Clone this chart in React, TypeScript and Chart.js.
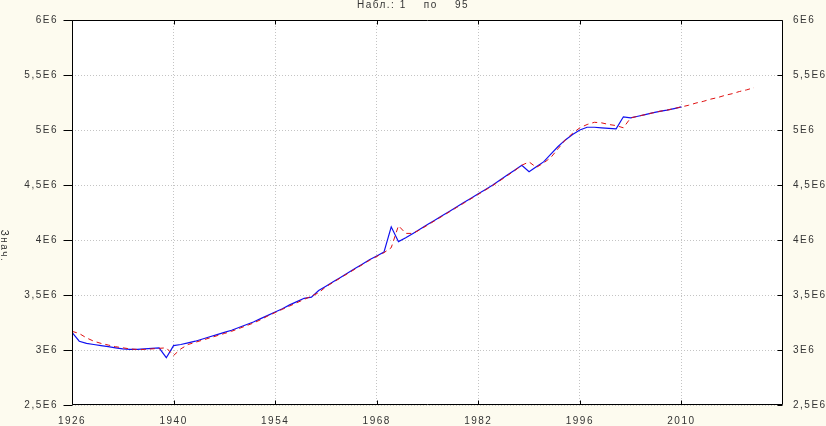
import React, { useEffect, useRef } from "react";
import { Chart, registerables } from "chart.js";

Chart.register(...registerables);

const START_YEAR = 1926;
const X_TICKS = [1926, 1940, 1954, 1968, 1982, 1996, 2010];
const Y_TICKS = [2.5e6, 3e6, 3.5e6, 4e6, 4.5e6, 5e6, 5.5e6, 6e6];
const TITLE = "Набл.: 1    по    95";
const Y_TITLE = "Знач.";

// observed values, millions (1926..2010)
const observed = [
  3.16, 3.08, 3.06, 3.05, 3.04, 3.03, 3.02, 3.01, 3.005, 3.005,
  3.01, 3.015, 3.02, 2.93, 3.04, 3.05, 3.065, 3.08, 3.1, 3.12,
  3.14, 3.16, 3.18, 3.205, 3.23, 3.255, 3.285, 3.315, 3.345, 3.375,
  3.41, 3.44, 3.47, 3.48, 3.54, 3.58, 3.62, 3.66, 3.7, 3.74,
  3.78, 3.82, 3.855, 3.89, 4.12, 3.985, 4.02, 4.06, 4.1, 4.14,
  4.18, 4.22, 4.26, 4.3, 4.34, 4.38, 4.42, 4.46, 4.5, 4.545,
  4.59, 4.635, 4.68, 4.62, 4.665, 4.71, 4.78, 4.85, 4.91, 4.96,
  5.0, 5.025, 5.025, 5.02, 5.015, 5.01, 5.12, 5.11, 5.125, 5.14,
  5.155, 5.17, 5.18, 5.195, 5.21,
];

// model / forecast values, millions (1926..2020)
const model = [
  3.17, 3.15, 3.11, 3.08, 3.06, 3.045, 3.03, 3.02, 3.01, 3.005,
  3.005, 3.01, 3.015, 3.02, 2.95, 3.01, 3.05, 3.07, 3.09, 3.11,
  3.13, 3.15, 3.17, 3.195, 3.22, 3.245, 3.275, 3.31, 3.34, 3.37,
  3.4, 3.43, 3.46, 3.49, 3.52, 3.575, 3.615, 3.655, 3.695, 3.735,
  3.775, 3.815, 3.85, 3.885, 3.93, 4.13, 4.06, 4.06, 4.095, 4.135,
  4.175, 4.215, 4.255, 4.295, 4.335, 4.375, 4.415, 4.455, 4.495, 4.54,
  4.585, 4.63, 4.68, 4.71, 4.66, 4.7, 4.75, 4.83, 4.91, 4.97,
  5.02, 5.05, 5.07, 5.065, 5.05, 5.04, 5.02, 5.11, 5.125, 5.14,
  5.155, 5.17, 5.18, 5.195, 5.21, 5.225, 5.245, 5.26, 5.28, 5.295,
  5.315, 5.33, 5.35, 5.365, 5.385,
];

const X_MIN = 1926;
const X_MAX = 2024;
const FONT = "'Liberation Sans', Arial, sans-serif";
const TEXT_COLOR = "#333333";
const BG = "#fdfbef";

const fmtY = (v: number) => {
  const m = v / 1e6;
  return String(m).replace(".", ",") + "E6";
};

const framePlugin = {
  id: "frame",
  beforeDraw(chart: any) {
    const { ctx, chartArea: a } = chart;
    ctx.save();
    ctx.fillStyle = BG;
    ctx.fillRect(0, 0, chart.width, chart.height);
    ctx.fillStyle = "#ffffff";
    ctx.fillRect(a.left, a.top, a.right - a.left, a.bottom - a.top);
    ctx.restore();
    (ctx as any).letterSpacing = "1.5px";
  },
  afterDraw(chart: any) {
    const { ctx, chartArea: a, scales } = chart;
    const L = Math.round(a.left) + 0.5;
    const R = Math.round(a.right) - 0.5;
    const T = Math.round(a.top) + 0.5;
    const B = Math.round(a.bottom) - 0.5;
    ctx.save();
    ctx.strokeStyle = "#000000";
    ctx.lineWidth = 1;
    ctx.setLineDash([]);
    ctx.beginPath();
    ctx.moveTo(L, T);
    ctx.lineTo(R, T);
    ctx.lineTo(R, B);
    ctx.lineTo(L, B);
    ctx.closePath();
    ctx.stroke();
    ctx.beginPath();
    for (const v of Y_TICKS) {
      const y = Math.round(scales.y.getPixelForValue(v)) + 0.5;
      ctx.moveTo(L - 9, y);
      ctx.lineTo(L, y);
      ctx.moveTo(R - 5, y);
      ctx.lineTo(R, y);
    }
    for (const v of X_TICKS) {
      const x = Math.round(scales.x.getPixelForValue(v)) + 0.5;
      ctx.moveTo(x, B);
      ctx.lineTo(x, B - 4);
      ctx.moveTo(x, T);
      ctx.lineTo(x, T + 4);
    }
    ctx.stroke();

    ctx.fillStyle = TEXT_COLOR;
    ctx.font = `10px ${FONT}`;
    (ctx as any).letterSpacing = "1.5px";
    ctx.textAlign = "center";
    ctx.textBaseline = "middle";
    ctx.fillText(TITLE, 413, 5);

    ctx.translate(4, 246);
    ctx.rotate(Math.PI / 2);
    ctx.fillText(Y_TITLE, 0, 0);
    ctx.restore();
  },
};

export default function App() {
  const ref = useRef<HTMLCanvasElement | null>(null);

  useEffect(() => {
    if (!ref.current) return;
    const obsData = observed.map((v, i) => ({ x: START_YEAR + i, y: v * 1e6 }));
    const modelData = model.map((v, i) => ({ x: START_YEAR + i, y: v * 1e6 }));
    const tickFont = { family: FONT, size: 10 };

    const chart = new Chart(ref.current, {
      type: "line",
      data: {
        datasets: [
          {
            label: "observed",
            data: obsData,
            borderColor: "#1010f0",
            borderWidth: 1.2,
            pointRadius: 0,
            tension: 0,
            order: 2,
            yAxisID: "y",
          },
          {
            label: "model",
            data: modelData,
            borderColor: "#e01010",
            borderWidth: 1,
            borderDash: [5, 4],
            pointRadius: 0,
            tension: 0,
            order: 1,
            yAxisID: "y",
          },
        ],
      },
      options: {
        responsive: false,
        animation: false,
        devicePixelRatio: 1,
        layout: { padding: { top: 18, left: 0, right: 0, bottom: 0 } },
        plugins: {
          legend: { display: false },
          title: { display: false },
          tooltip: { enabled: false },
        },
        scales: {
          x: {
            type: "linear",
            min: X_MIN,
            max: X_MAX,
            afterBuildTicks: (s: any) => {
              s.ticks = X_TICKS.map((v) => ({ value: v }));
            },
            afterFit: (s: any) => {
              s.height = 21;
            },
            ticks: {
              autoSkip: false,
              maxRotation: 0,
              padding: 10,
              color: TEXT_COLOR,
              font: tickFont,
              callback: (v: any) => String(v),
            },
            grid: {
              color: "#c4c4c4",
              lineWidth: 1,
              drawTicks: false,
            },
            border: { display: false, dash: [1, 2] },
          },
          y: {
            type: "linear",
            position: "left",
            min: 2.5e6,
            max: 6e6,
            afterBuildTicks: (s: any) => {
              s.ticks = Y_TICKS.map((v) => ({ value: v }));
            },
            afterFit: (s: any) => {
              s.width = 72;
            },
            ticks: {
              padding: 14,
              color: TEXT_COLOR,
              font: tickFont,
              callback: (v: any) => fmtY(Number(v)),
            },
            grid: {
              color: "#c4c4c4",
              lineWidth: 1,
              drawTicks: false,
            },
            border: { display: false, dash: [1, 2] },
          },
          y2: {
            type: "linear",
            position: "right",
            min: 2.5e6,
            max: 6e6,
            afterBuildTicks: (s: any) => {
              s.ticks = Y_TICKS.map((v) => ({ value: v }));
            },
            afterFit: (s: any) => {
              s.width = 43;
            },
            ticks: {
              padding: 10,
              color: TEXT_COLOR,
              font: tickFont,
              callback: (v: any) => fmtY(Number(v)),
            },
            grid: { drawOnChartArea: false, drawTicks: false },
            border: { display: false },
          },
        },
      } as any,
      plugins: [framePlugin],
    });
    return () => chart.destroy();
  }, []);

  return (
    <div style={{ position: "absolute", left: 0, top: 0, width: 826, height: 426 }}>
      <canvas ref={ref} width={826} height={426} style={{ width: 826, height: 426, display: "block" }} />
    </div>
  );
}
